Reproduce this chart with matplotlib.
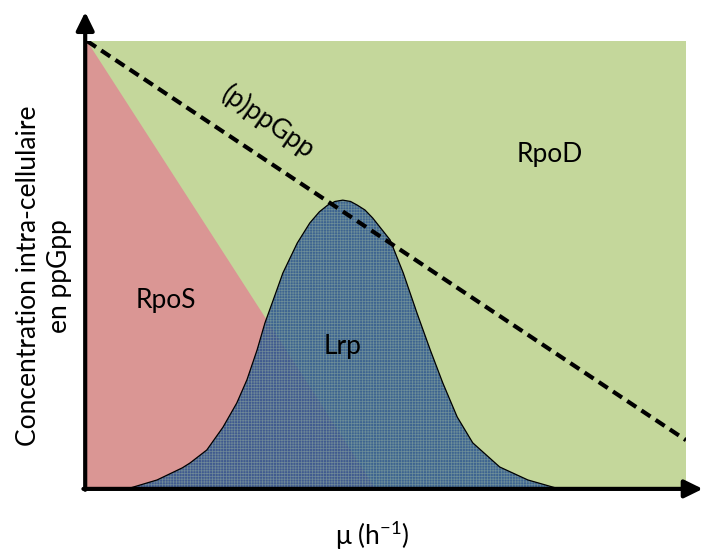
# Schematic: sigma factor domains vs growth rate and (p)ppGpp level
import numpy as np
import matplotlib
matplotlib.use('Agg')
import matplotlib.pyplot as plt

plt.rcParams['font.family'] = ['Lato', 'DejaVu Sans']
plt.rcParams['mathtext.fontset'] = 'custom'
plt.rcParams['mathtext.rm'] = 'Lato'
plt.rcParams['hatch.linewidth'] = 0.5

# --- data (axes units, 0..1) ---
# RpoD background
rpod_x = [0.0, 1.0, 1.0, 0.0]
rpod_y = [0.0, 0.0, 1.0, 1.0]
# RpoS triangle
rpos_x = [0.0, 0.0, 0.481]
rpos_y = [0.0, 1.0, 0.0]
# Lrp bell curve
lrp_x = [0.072, 0.117, 0.159, 0.172, 0.200, 0.227, 0.250, 0.267, 0.284, 0.297,
         0.311, 0.327, 0.351, 0.372, 0.388, 0.402, 0.414, 0.427, 0.440, 0.451,
         0.464, 0.477, 0.506, 0.528, 0.551, 0.573, 0.594, 0.618, 0.644, 0.689,
         0.736, 0.783]
lrp_y = [0.000, 0.018, 0.045, 0.056, 0.085, 0.136, 0.190, 0.242, 0.309, 0.369,
         0.421, 0.481, 0.548, 0.593, 0.618, 0.633, 0.641, 0.644, 0.641, 0.633,
         0.622, 0.604, 0.555, 0.481, 0.391, 0.309, 0.235, 0.159, 0.101, 0.047,
         0.018, 0.000]
# (p)ppGpp dashed line
ppgpp_x = [0.0, 1.0]
ppgpp_y = [1.0, 0.107]

green = '#C4D79B'
red = '#DA9694'
blue = '#25508F'

fig = plt.figure(figsize=(7.06, 5.52), dpi=100)
ax = fig.add_axes([87 / 706, 64 / 552, 599 / 706, 447 / 552])
ax.set_xlim(0, 1)
ax.set_ylim(0, 1)
ax.axis('off')

ax.fill(rpod_x, rpod_y, color=green, lw=0, zorder=1)
ax.fill(rpos_x, rpos_y, color=red, lw=0, zorder=2)

# Lrp: semi-transparent blue with a fine grid pattern
ax.fill(lrp_x, lrp_y, facecolor=blue, edgecolor='none', alpha=0.85, lw=0, zorder=3)
ax.fill(lrp_x, lrp_y, facecolor='none', edgecolor='#a9c2a4', hatch='++++++',
        alpha=0.45, lw=0, zorder=4)
ax.plot(lrp_x, lrp_y, color='black', lw=0.9, zorder=5)

ax.plot(ppgpp_x, ppgpp_y, color='black', lw=3, dashes=(2.6, 1.5),
        solid_capstyle='butt', dash_capstyle='butt', zorder=6)

# axes arrows
arrow = dict(arrowstyle='-|>,head_length=0.55,head_width=0.27', lw=3,
             color='black', mutation_scale=20, shrinkA=0, shrinkB=0)
ax.annotate('', xy=(-0.003, 1.065), xytext=(-0.003, -0.004),
            arrowprops=arrow, annotation_clip=False, zorder=7)
ax.annotate('', xy=(1.028, -0.002), xytext=(-0.006, -0.002),
            arrowprops=arrow, annotation_clip=False, zorder=7)

# labels
fs = 19
ax.text(0.132, 0.420, 'RpoS', fontsize=fs, ha='center', va='center', zorder=8)
ax.text(0.427, 0.316, 'Lrp', fontsize=fs, ha='center', va='center', zorder=8)
ax.text(0.773, 0.746, 'RpoD', fontsize=fs, ha='center', va='center', zorder=8)
ax.text(0.302, 0.818, '(p)ppGpp', fontsize=fs, ha='center', va='center',
        rotation=-35, rotation_mode='anchor', zorder=8)

fig.text(44 / 706, 1 - 276 / 552, 'Concentration intra-cellulaire\nen ppGpp',
         fontsize=fs, rotation=90, ha='center', va='center', linespacing=1.25)
fig.text(372 / 706, 1 - 535 / 552, r'μ (h$^{-1}$)', fontsize=fs,
         ha='center', va='center')

fig.savefig('out.png', dpi=100)
